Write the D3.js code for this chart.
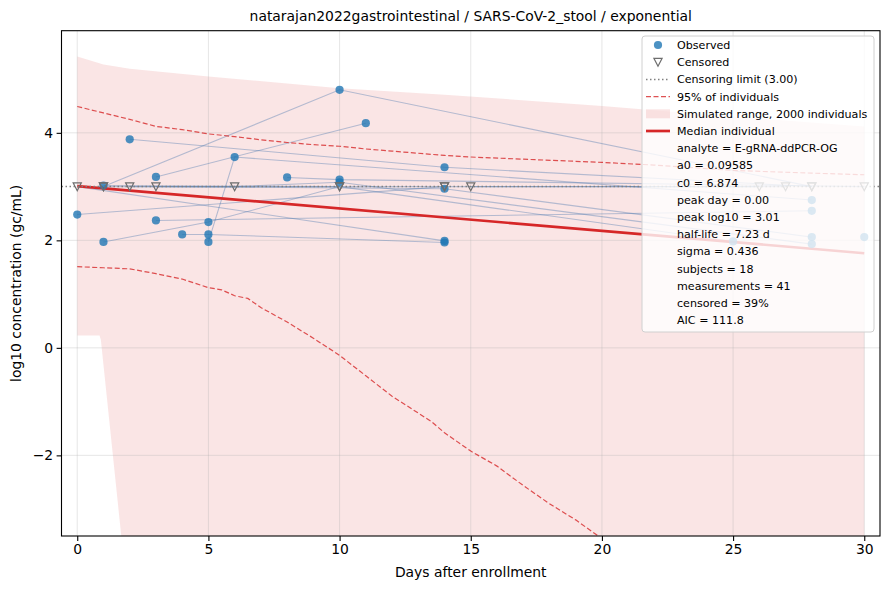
<!DOCTYPE html>
<html>
<head>
<meta charset="utf-8">
<script src="https://cdn.jsdelivr.net/npm/d3@7"></script>
<style>
  body { margin: 0; background: #fff; }
  svg { font-family: "DejaVu Sans", sans-serif; }
</style>
</head>
<body>
<div id="chart-area"></div>
<script>
// ---- data ----
var titleText = "natarajan2022gastrointestinal / SARS-CoV-2_stool / exponential";
var xTicks = [0, 5, 10, 15, 20, 25, 30];
var yTicks = [-2, 0, 2, 4];
var censorLimit = 3.00;

// one entry per subject: days, log10 values, censored flag
var subjectDays = [
    [0, 14], [1, 10, 28], [3, 11], [2, 14, 28], [1, 5, 10], [0, 14],
    [3, 28], [4, 5, 14], [5, 6, 28], [8, 10, 30], [3, 14, 28], [2, 6, 10, 28],
    [1, 10, 25], [1, 14, 26], [15, 27], [30]
];
var subjectValues = [
    [2.48, 3.00], [3.00, 4.80, 3.00], [3.18, 4.18], [3.88, 3.36, 3.00], [1.97, 2.34, 3.00], [3.00, 1.99],
    [2.37, 2.55], [2.11, 2.11, 1.96], [1.97, 3.55, 2.75], [3.17, 3.13, 3.00], [3.00, 2.96, 2.06], [3.00, 3.00, 3.08, 1.93],
    [3.02, 3.00, 1.98], [3.00, 3.00, 3.00], [3.00, 3.00], [2.06]
];
var subjectCensored = [
    [0, 1], [1, 0, 1], [0, 0], [0, 0, 1], [0, 0, 1], [1, 0],
    [0, 0], [0, 0, 0], [0, 0, 0], [0, 0, 1], [1, 0, 0], [1, 1, 0, 0],
    [0, 1, 0], [1, 1, 1], [1, 1], [0]
];

var medianDays = [0, 30];
var medianValues = [3.01, 1.76];

var upperDays = [0, 1, 2, 3, 4, 5, 6, 7, 8, 9, 10, 11, 12, 13, 14, 15, 17, 20, 22, 25, 28, 30];
var upperValues = [4.49, 4.37, 4.25, 4.12, 4.06, 3.98, 3.93, 3.87, 3.82, 3.78, 3.75, 3.70, 3.66, 3.62, 3.58, 3.55, 3.51, 3.45, 3.40, 3.30, 3.25, 3.22];

var lowerDays = [0, 1, 2, 3, 4, 5, 5.5, 6, 6.5, 7, 8, 9, 10, 11, 12, 13.5, 14, 15, 16, 17, 18, 19, 20];
var lowerValues = [1.51, 1.49, 1.47, 1.38, 1.28, 1.12, 1.08, 0.97, 0.92, 0.75, 0.48, 0.18, -0.14, -0.52, -0.90, -1.37, -1.58, -1.92, -2.20, -2.56, -2.90, -3.20, -3.55];

var bandTopDays = [0, 1, 2, 5, 10, 14, 20, 25, 30];
var bandTopValues = [5.42, 5.27, 5.19, 5.05, 4.83, 4.71, 4.50, 4.30, 4.12];
var bandBottomDays = [0, 0.85, 0.9, 1.7, 30];
var bandBottomValues = [0.23, 0.23, 0.15, -3.6, -3.6];

var legendLabels = ["Observed", "Censored", "Censoring limit (3.00)", "95% of individuals",
    "Simulated range, 2000 individuals", "Median individual"];
var statLines = ["analyte = E-gRNA-ddPCR-OG", "a0 = 0.09585", "c0 = 6.874", "peak day = 0.00",
    "peak log10 = 3.01", "half-life = 7.23 d", "sigma = 0.436", "subjects = 18",
    "measurements = 41", "censored = 39%", "AIC = 111.8"];

// ---- layout ----
var W = 890, H = 590;
var margin = { left: 61.5, right: 10, top: 30.7, bottom: 54 };
var width = W - margin.left - margin.right;
var height = H - margin.top - margin.bottom;

var red = "#d62728", blue = "#1f77b4";

var svg = d3.select("#chart-area").append("svg")
    .attr("width", W)
    .attr("height", H);

var g = svg.append("g")
    .attr("transform", `translate(${margin.left}, ${margin.top})`);

var x = d3.scaleLinear().domain([-0.6, 30.6]).range([0, width]);
var y = d3.scaleLinear().domain([-3.5, 5.9]).range([height, 0]);

g.append("clipPath").attr("id", "clip")
    .append("rect").attr("width", width).attr("height", height);

var plot = g.append("g").attr("clip-path", "url(#clip)");

var line = d3.line().x(d => x(d[0])).y(d => y(d[1]));
var zip = (a, b) => a.map((v, i) => [v, b[i]]);

// simulated band
var bandPts = zip(bandTopDays, bandTopValues)
    .concat(zip(bandBottomDays, bandBottomValues).reverse());
plot.append("path")
    .attr("d", line(bandPts) + "Z")
    .attr("fill", red)
    .attr("fill-opacity", 0.12);

// grid
plot.selectAll(".gx").data(xTicks).enter().append("line")
    .attr("x1", d => x(d)).attr("x2", d => x(d))
    .attr("y1", 0).attr("y2", height)
    .attr("stroke", "#b0b0b0").attr("stroke-opacity", 0.4).attr("stroke-width", 0.8);
plot.selectAll(".gy").data(yTicks).enter().append("line")
    .attr("y1", d => y(d)).attr("y2", d => y(d))
    .attr("x1", 0).attr("x2", width)
    .attr("stroke", "#b0b0b0").attr("stroke-opacity", 0.4).attr("stroke-width", 0.8);

// subject trajectories
subjectDays.forEach((days, i) => {
    if (days.length < 2) return;
    plot.append("path")
        .attr("d", line(zip(days, subjectValues[i])))
        .attr("fill", "none")
        .attr("stroke", "#4a78b0")
        .attr("stroke-opacity", 0.4)
        .attr("stroke-width", 1.1);
});

// 95% dashed
[[upperDays, upperValues], [lowerDays, lowerValues]].forEach(p => {
    plot.append("path")
        .attr("d", line(zip(p[0], p[1])))
        .attr("fill", "none")
        .attr("stroke", red)
        .attr("stroke-opacity", 0.8)
        .attr("stroke-width", 1.2)
        .attr("stroke-dasharray", "5,2.5");
});

// median
plot.append("path")
    .attr("d", line(zip(medianDays, medianValues)))
    .attr("fill", "none")
    .attr("stroke", red)
    .attr("stroke-width", 2.7);

// censoring limit
plot.append("line")
    .attr("x1", 0).attr("x2", width)
    .attr("y1", y(censorLimit)).attr("y2", y(censorLimit))
    .attr("stroke", "#808080")
    .attr("stroke-width", 1.5)
    .attr("stroke-dasharray", "1.5,2.5");

// points
var obs = [], cen = [];
subjectDays.forEach((days, i) => {
    days.forEach((d, j) => {
        (subjectCensored[i][j] ? cen : obs).push([d, subjectValues[i][j]]);
    });
});

var tri = "M-4.1,-3.8L4.1,-3.8L0,4.1Z";

plot.selectAll(".obs").data(obs).enter().append("circle")
    .attr("cx", d => x(d[0])).attr("cy", d => y(d[1]))
    .attr("r", 4.1)
    .attr("fill", blue).attr("fill-opacity", 0.8);

plot.selectAll(".cen").data(cen).enter().append("path")
    .attr("d", tri)
    .attr("transform", d => `translate(${x(d[0])},${y(d[1])})`)
    .attr("fill", "none")
    .attr("stroke", "#6e6e6e")
    .attr("stroke-width", 1.2);

// axes
var xAxis = g.append("g")
    .attr("transform", `translate(0, ${height})`)
    .call(d3.axisBottom(x).tickValues(xTicks).tickSize(4.9).tickPadding(3.5));
var yAxis = g.append("g")
    .call(d3.axisLeft(y).tickValues(yTicks).tickSize(4.9).tickPadding(3.5));
[xAxis, yAxis].forEach(a => {
    a.select(".domain").remove();
    a.selectAll("text").attr("font-size", "13.9px").attr("fill", "#000")
        .attr("font-family", "DejaVu Sans, sans-serif");
    a.selectAll("line").attr("stroke", "#000").attr("stroke-width", 1.1);
});

g.append("rect")
    .attr("width", width).attr("height", height)
    .attr("fill", "none").attr("stroke", "#000").attr("stroke-width", 1.1);

// labels
svg.append("text")
    .attr("x", margin.left + width / 2).attr("y", 21)
    .attr("text-anchor", "middle").attr("font-size", "13.9px")
    .text(titleText);

svg.append("text")
    .attr("x", margin.left + width / 2).attr("y", 577)
    .attr("text-anchor", "middle").attr("font-size", "13.9px")
    .text("Days after enrollment");

svg.append("text")
    .attr("transform", `translate(21, ${margin.top + height / 2}) rotate(-90)`)
    .attr("text-anchor", "middle").attr("font-size", "13.9px")
    .text("log10 concentration (gc/mL)");

// legend
var lg = svg.append("g").attr("transform", "translate(642, 36)");
lg.append("rect")
    .attr("width", 232).attr("height", 296)
    .attr("rx", 3)
    .attr("fill", "#fff").attr("fill-opacity", 0.8)
    .attr("stroke", "#d0d0d0").attr("stroke-width", 1);

var rowY = i => 9 + i * 17.2;
var allRows = legendLabels.concat(statLines);
lg.selectAll(".lt").data(allRows).enter().append("text")
    .attr("x", 35).attr("y", (d, i) => rowY(i) + 4)
    .attr("font-size", "11.1px")
    .text(d => d);

lg.append("circle").attr("cx", 16).attr("cy", rowY(0)).attr("r", 4.1)
    .attr("fill", blue).attr("fill-opacity", 0.8);
lg.append("path").attr("d", tri).attr("transform", `translate(16,${rowY(1)})`)
    .attr("fill", "none").attr("stroke", "#6e6e6e").attr("stroke-width", 1.2);
lg.append("line").attr("x1", 4).attr("x2", 28).attr("y1", rowY(2)).attr("y2", rowY(2))
    .attr("stroke", "#808080").attr("stroke-width", 1.5).attr("stroke-dasharray", "1.5,2.5");
lg.append("line").attr("x1", 4).attr("x2", 28).attr("y1", rowY(3)).attr("y2", rowY(3))
    .attr("stroke", red).attr("stroke-opacity", 0.8).attr("stroke-width", 1.2)
    .attr("stroke-dasharray", "5,2.5");
lg.append("rect").attr("x", 4).attr("y", rowY(4) - 4.5).attr("width", 24).attr("height", 9)
    .attr("fill", red).attr("fill-opacity", 0.12);
lg.append("line").attr("x1", 4).attr("x2", 28).attr("y1", rowY(5)).attr("y2", rowY(5))
    .attr("stroke", red).attr("stroke-width", 2.7);
</script>
</body>
</html>
